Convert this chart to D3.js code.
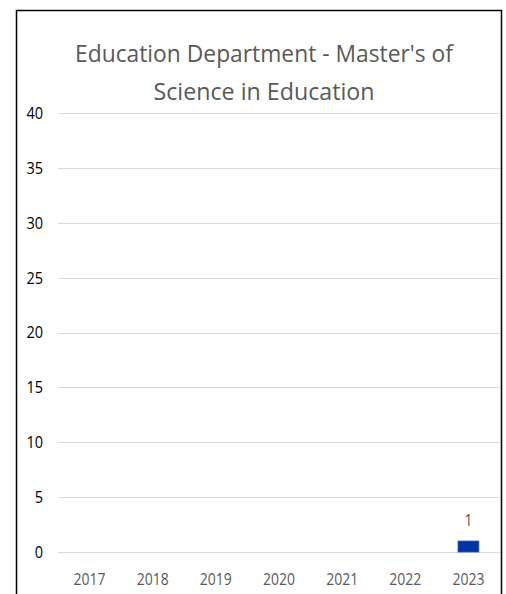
<!DOCTYPE html>
<html>
<head>
<meta charset="utf-8">
<script src="https://cdn.jsdelivr.net/npm/d3@7/dist/d3.min.js"></script>
<style>
  html, body { margin: 0; padding: 0; background: #fff; }
  svg { display: block; }
  text { font-family: "Open Sans", "Noto Sans", sans-serif; }
</style>
</head>
<body>
<script>
const titleLines = ["Education Department - Master's of", "Science in Education"];
const categories = ["2017", "2018", "2019", "2020", "2021", "2022", "2023"];
const values = [null, null, null, null, null, null, 1];
const yTicks = [0, 5, 10, 15, 20, 25, 30, 35, 40];

const W = 506, H = 594;
const svg = d3.select("body").append("svg").attr("width", W).attr("height", H);

// outer frame (bottom edge cut off)
svg.append("path")
  .attr("d", `M16.5,${H} L16.5,10.5 L501.5,10.5 L501.5,${H}`)
  .attr("fill", "none").attr("stroke", "#000").attr("stroke-width", 1.5);

const plot = { left: 58, right: 500, top: 113, bottom: 552 };
const x = d3.scaleBand().domain(categories).range([plot.left, plot.right]).paddingInner(0.67).paddingOuter(0.335);
const xc = d3.scaleBand().domain(categories).range([plot.left, plot.right]);
const y = d3.scaleLinear().domain([0, 40]).range([plot.bottom, plot.top]);

// gridlines
svg.append("g").selectAll("line").data(yTicks).join("line")
  .attr("x1", plot.left).attr("x2", plot.right)
  .attr("y1", d => Math.round(y(d)) + 0.5).attr("y2", d => Math.round(y(d)) + 0.5)
  .attr("stroke", "#d9d9d9").attr("stroke-width", 1);

// y axis labels
const yAxis = d3.axisLeft(y).tickValues(yTicks).tickSize(0).tickPadding(0);
const gy = svg.append("g").attr("transform", "translate(43,0)").call(yAxis);
gy.select(".domain").remove();
gy.selectAll("text").attr("font-size", 17).attr("fill", "#000")
  .attr("font-family", "'Open Sans', sans-serif")
  .attr("textLength", d => String(d).length * 8.3).attr("lengthAdjust", "spacingAndGlyphs");

// x axis labels
const xAxis = d3.axisBottom(xc).tickSize(0).tickPadding(0);
const gx = svg.append("g").attr("transform", `translate(0,${plot.bottom})`).call(xAxis);
gx.select(".domain").remove();
gx.selectAll("text").attr("font-size", 17).attr("fill", "#595959")
  .attr("font-family", "'Open Sans', sans-serif")
  .attr("dy", null).attr("y", 33)
  .attr("textLength", 32).attr("lengthAdjust", "spacingAndGlyphs");

// bars
const data = categories.map((c, i) => ({ c, v: values[i] })).filter(d => d.v != null);
svg.append("g").selectAll("rect").data(data).join("rect")
  .attr("x", d => x(d.c)).attr("width", x.bandwidth())
  .attr("y", d => y(d.v)).attr("height", d => y(0) - y(d.v))
  .attr("fill", "#0033a6").attr("stroke", "#2f55b8").attr("stroke-width", 0.8);

// data labels
svg.append("g").selectAll("text").data(data).join("text")
  .attr("x", d => x(d.c) + x.bandwidth() / 2)
  .attr("y", d => y(d.v) - 15)
  .attr("text-anchor", "middle").attr("font-size", 17).attr("fill", "#404040")
  .attr("textLength", 7).attr("lengthAdjust", "spacingAndGlyphs")
  .text(d => d.v);

// title
svg.append("g").selectAll("text").data(titleLines).join("text")
  .attr("x", 264).attr("y", (d, i) => 62 + i * 38)
  .attr("text-anchor", "middle").attr("font-size", 24).attr("fill", "#595959")
  .attr("textLength", (d, i) => i === 0 ? 378 : 221).attr("lengthAdjust", "spacingAndGlyphs")
  .text(d => d);
</script>
</body>
</html>
